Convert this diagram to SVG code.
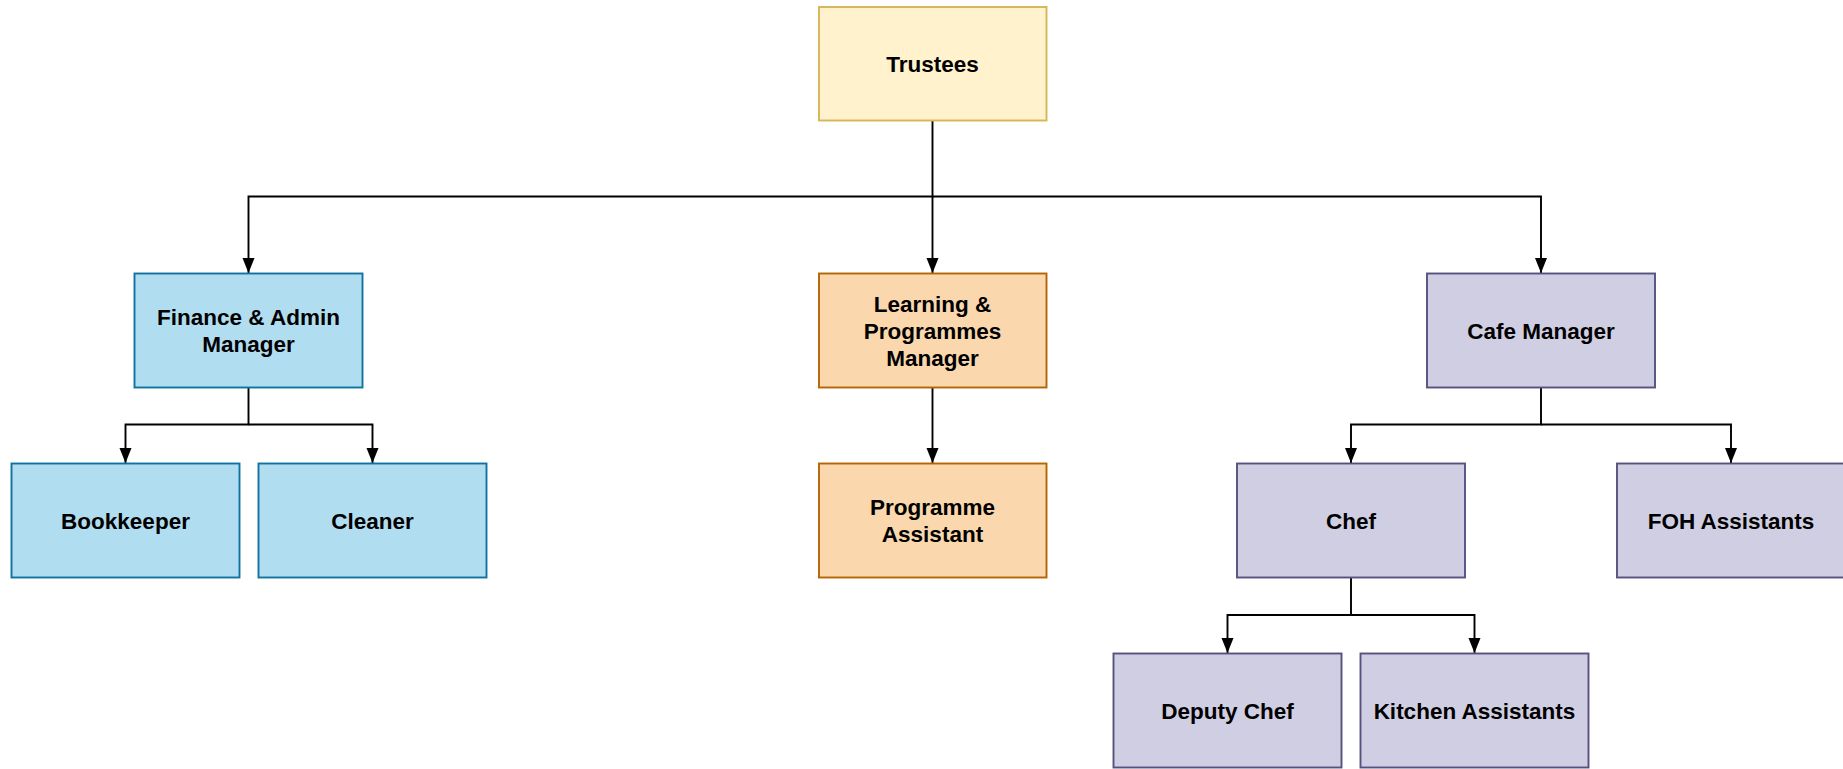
<svg xmlns="http://www.w3.org/2000/svg" width="1843" height="769" viewBox="0 0 1843 769">
<style>
rect{stroke-width:1.9}
.y{fill:#fff2cc;stroke:#d6b656}
.b{fill:#b1ddf0;stroke:#10739e}
.o{fill:#fad7ac;stroke:#b46504}
.p{fill:#d0cee2;stroke:#56517e}
text{font-family:"Liberation Sans",Arial,sans-serif;font-weight:bold;font-size:22.5px;fill:#000;text-anchor:middle;dominant-baseline:central}
.e{fill:none;stroke:#000;stroke-width:1.9;marker-end:url(#a)}
</style>
<defs>
<marker id="a" markerUnits="userSpaceOnUse" markerWidth="16" markerHeight="14" refX="15" refY="6.5" orient="auto">
<path d="M0,0.5 L15,6.5 L0,12.5 z" fill="#000"/>
</marker>
</defs>
<g id="connectors">
<path class="e" d="M932.5,120.5 V196.5 H248.5 V273"/>
<path class="e" d="M932.5,196.5 V273"/>
<path class="e" d="M932.5,196.5 H1541 V273"/>
<path class="e" d="M248.5,387.5 V424.5 H125.5 V463"/>
<path class="e" d="M248.5,424.5 H372.5 V463"/>
<path class="e" d="M932.5,387.5 V463"/>
<path class="e" d="M1541,387.5 V424.5 H1351 V463"/>
<path class="e" d="M1541,424.5 H1731 V463"/>
<path class="e" d="M1351,577.5 V615 H1227.5 V653"/>
<path class="e" d="M1351,615 H1474.5 V653"/>
</g>
<g id="trustees"><rect class="y" x="819" y="7" width="227.5" height="113.5"/><text x="932.5" y="64">Trustees</text></g>
<g id="finance"><rect class="b" x="134.5" y="273.5" width="228" height="114"/><text x="248.5" y="317">Finance &amp; Admin</text><text x="248.5" y="344">Manager</text></g>
<g id="learning"><rect class="o" x="819" y="273.5" width="227.5" height="114"/><text x="932.5" y="304">Learning &amp;</text><text x="932.5" y="331">Programmes</text><text x="932.5" y="358">Manager</text></g>
<g id="cafe"><rect class="p" x="1427" y="273.5" width="228" height="114"/><text x="1541" y="331">Cafe Manager</text></g>
<g id="bookkeeper"><rect class="b" x="11.5" y="463.5" width="228" height="114"/><text x="125.5" y="521">Bookkeeper</text></g>
<g id="cleaner"><rect class="b" x="258.5" y="463.5" width="228" height="114"/><text x="372.5" y="521">Cleaner</text></g>
<g id="programme-assistant"><rect class="o" x="819" y="463.5" width="227.5" height="114"/><text x="932.5" y="507">Programme</text><text x="932.5" y="534">Assistant</text></g>
<g id="chef"><rect class="p" x="1237" y="463.5" width="228" height="114"/><text x="1351" y="521">Chef</text></g>
<g id="foh"><rect class="p" x="1617" y="463.5" width="228" height="114"/><text x="1731" y="521">FOH Assistants</text></g>
<g id="deputy-chef"><rect class="p" x="1113.5" y="653.5" width="228" height="114"/><text x="1227.5" y="711">Deputy Chef</text></g>
<g id="kitchen"><rect class="p" x="1360.5" y="653.5" width="228" height="114"/><text x="1474.5" y="711">Kitchen Assistants</text></g>
</svg>
